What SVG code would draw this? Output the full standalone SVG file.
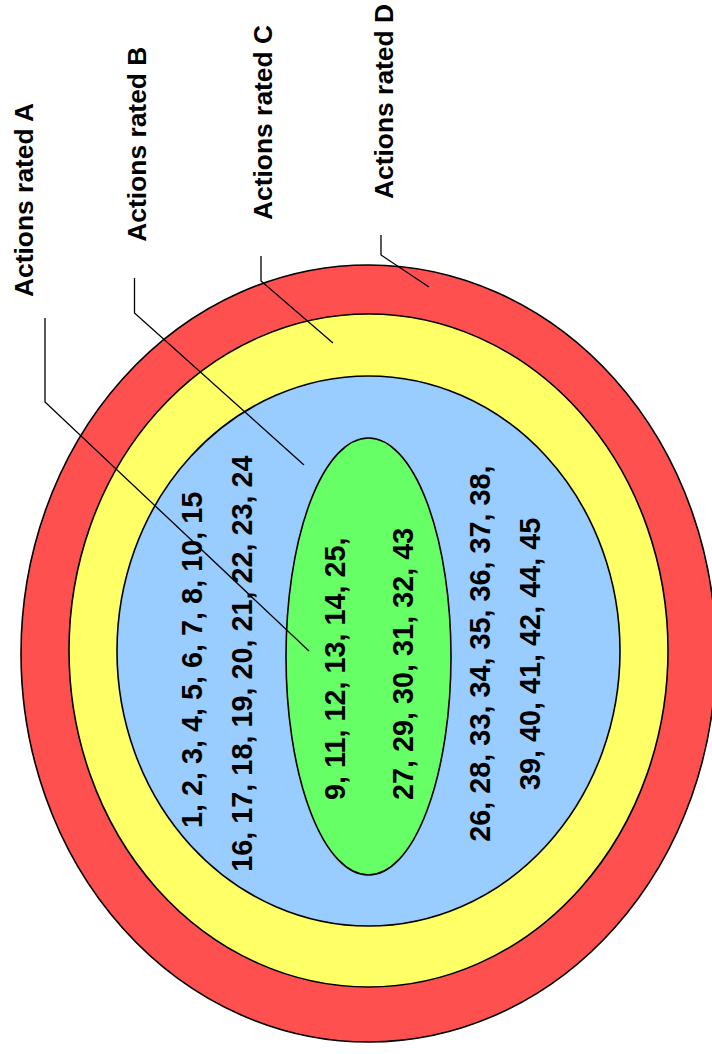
<svg xmlns="http://www.w3.org/2000/svg" width="712" height="1054" viewBox="0 0 712 1054">
<style>
.ring{stroke:#000;stroke-width:1.6}
.lbl{font-family:"Liberation Sans",Arial,sans-serif;font-weight:bold;font-size:26.4px;fill:#000}
.num{font-family:"Liberation Sans",Arial,sans-serif;font-weight:bold;font-size:28.8px;fill:#000}
.lead{fill:none;stroke:#000;stroke-width:1.3}
</style>
<rect width="712" height="1054" fill="#fff"/>
<g id="ringD"><ellipse class="ring" cx="368.5" cy="653.5" rx="347.5" ry="388.5" fill="#FF5050"/></g>
<g id="ringC"><ellipse class="ring" cx="368.5" cy="650.5" rx="299.5" ry="336.5" fill="#FFFF66"/></g>
<g id="ringB"><ellipse class="ring" cx="368.5" cy="651" rx="251.5" ry="275" fill="#99CCFF"/>
<text class="num" transform="translate(201.7,828) rotate(-90)">1, 2, 3, 4, 5, 6, 7, 8, 10, 15</text>
<text class="num" transform="translate(251.7,871.7) rotate(-90)">16, 17, 18, 19, 20, 21, 22, 23, 24</text>
<text class="num" transform="translate(490,841.7) rotate(-90)">26, 28, 33, 34, 35, 36, 37, 38,</text>
<text class="num" transform="translate(540,790) rotate(-90)">39, 40, 41, 42, 44, 45</text>
</g>
<g id="ringA"><ellipse class="ring" cx="368.5" cy="656.5" rx="82.5" ry="218.5" fill="#66FF66"/>
<text class="num" transform="translate(345,800) rotate(-90)">9, 11, 12, 13, 14, 25,</text>
<text class="num" transform="translate(413.3,800) rotate(-90)">27, 29, 30, 31, 32, 43</text>
</g>
<g id="labelA"><text class="lbl" transform="translate(33,297) rotate(-90)">Actions rated A</text></g>
<g id="labelB"><text class="lbl" transform="translate(146,241.7) rotate(-90)">Actions rated B</text></g>
<g id="labelC"><text class="lbl" transform="translate(271.7,220) rotate(-90)">Actions rated C</text></g>
<g id="labelD"><text class="lbl" transform="translate(392.7,199) rotate(-90)">Actions rated D</text></g>
<g id="connectors">
<path class="lead" d="M45 318 V402 L309 651"/>
<path class="lead" d="M134.5 278 V313 L304 465"/>
<path class="lead" d="M261 256 V281 L333 343"/>
<path class="lead" d="M381 235 V255 L429 287"/>
</g>
</svg>
